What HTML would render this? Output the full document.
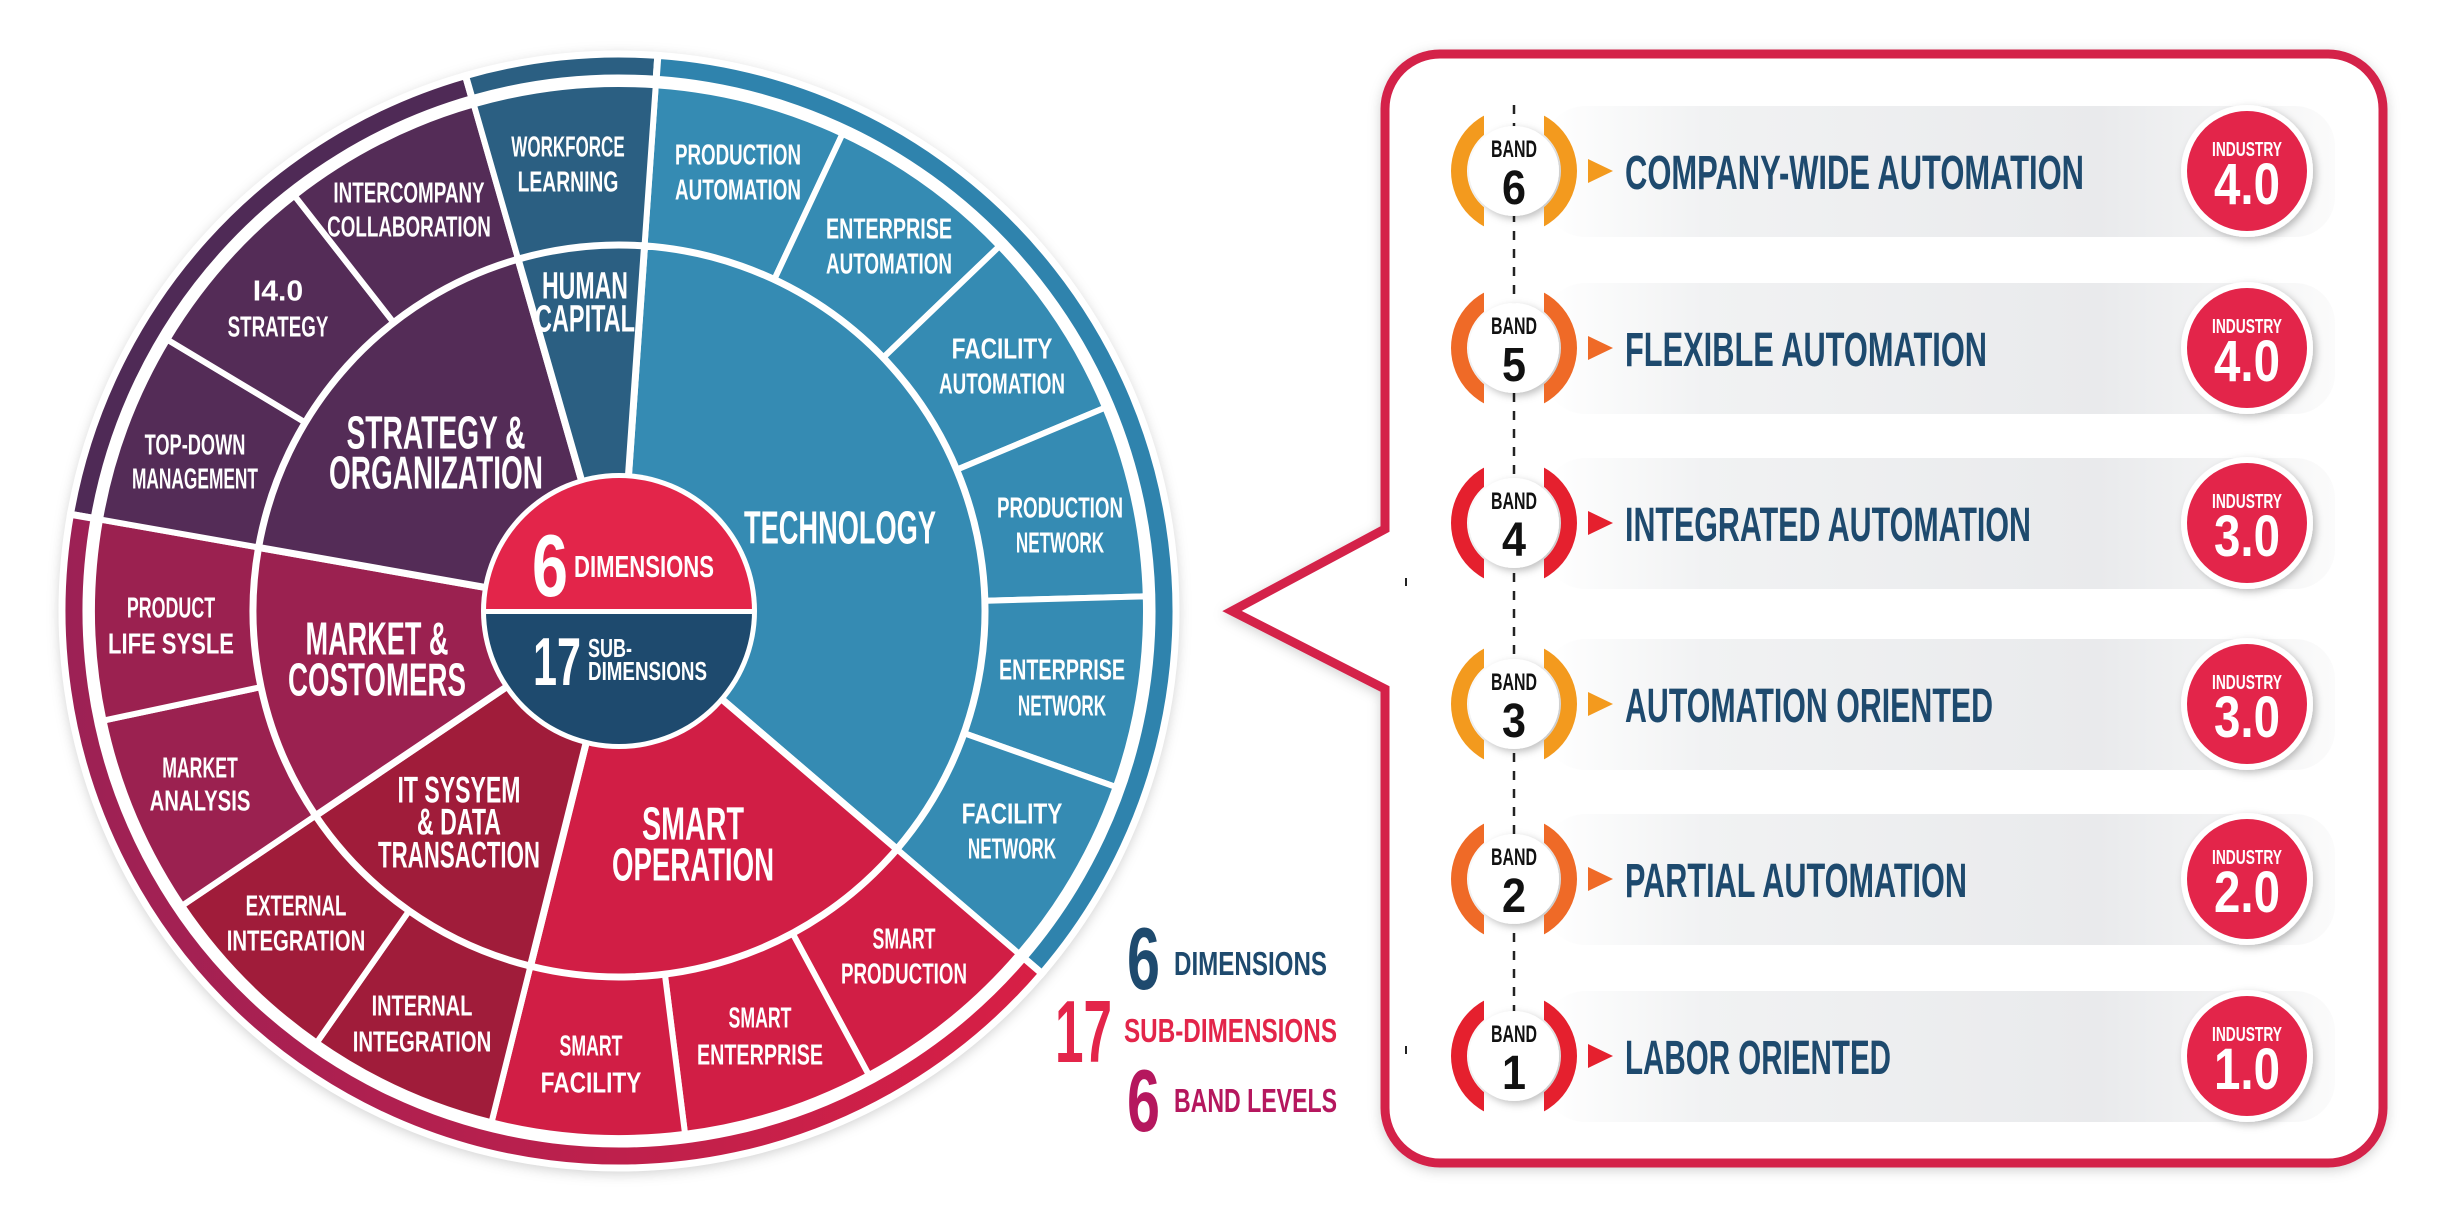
<!DOCTYPE html>
<html><head><meta charset="utf-8"><style>
html,body{margin:0;padding:0;background:#fff;}
svg{display:block;}
text{font-family:"Liberation Sans Narrow","Liberation Sans",sans-serif;font-weight:bold;}
</style></head><body>
<svg id="s" width="2438" height="1214" viewBox="0 0 2438 1214" xmlns="http://www.w3.org/2000/svg">
<defs>
<linearGradient id="ringg" x1="0" y1="0" x2="1" y2="0">
<stop offset="0" stop-color="#9c2155"/><stop offset="1" stop-color="#d81f45"/></linearGradient>
<linearGradient id="barg" x1="0" y1="0" x2="1" y2="0">
<stop offset="0" stop-color="#ffffff"/><stop offset="0.2" stop-color="#f1f2f3"/><stop offset="0.7" stop-color="#e9eaec"/><stop offset="1" stop-color="#fbfbfb"/></linearGradient>
<filter id="sh" x="-20%" y="-20%" width="140%" height="140%"><feDropShadow dx="0" dy="3" stdDeviation="6" flood-color="#000" flood-opacity="0.18"/></filter>
<filter id="sh2" x="-30%" y="-30%" width="160%" height="160%"><feDropShadow dx="3" dy="3" stdDeviation="4" flood-color="#000" flood-opacity="0.25"/></filter>
</defs>
<g id="wheel"></g>
<g id="panel"></g>
</svg>
<script>
const NS="http://www.w3.org/2000/svg";
const cx=619,cy=611;
function el(parent,tag,attrs,txt){const e=document.createElementNS(NS,tag);for(const k in attrs)e.setAttribute(k,attrs[k]);if(txt!==undefined)e.textContent=txt;parent.appendChild(e);return e;}
function P(r,a){const t=a*Math.PI/180;return [cx+r*Math.sin(t),cy-r*Math.cos(t)];}
function sector(g,r1,r2,a1,a2,fill,sw){
 const L=(a2-a1)>180?1:0;const o1=P(r2,a1),o2=P(r2,a2),i2=P(r1,a2),i1=P(r1,a1);
 el(g,'path',{d:`M${o1}A${r2} ${r2} 0 ${L} 1 ${o2}L${i2}A${r1} ${r1} 0 ${L} 0 ${i1}Z`,fill:fill,stroke:'#fff','stroke-width':sw||6,'stroke-linejoin':'miter'});
}
function T(g,x,y,s,size,color,w,anchor){
 const a={x:x,y:y+size*0.36,'font-size':size,fill:color,'text-anchor':anchor||'middle'};
 if(w){a.textLength=w;a.lengthAdjust='spacingAndGlyphs';}
 el(g,'text',a,s);
}
const W=document.getElementById('wheel');
// shadow base
el(W,'circle',{cx:cx,cy:cy,r:560,fill:'#fff',filter:'url(#sh)'});
// outer thin ring
sector(W,533,557,280,344,'#4f2a56',7);
sector(W,533,557,344,364,'#2b5f82',7);
sector(W,533,557,4,130.6,'#2f83ad',7);
sector(W,533,557,130.6,280,'url(#ringg)',7);
// subs
const C={tech:'#358bb3',op:'#d11e45',it:'#a01c3a',mk:'#9b2150',st:'#542c57',hu:'#2b5f82'};
const tb=[4,25.1,46.2,67.3,88.4,109.5,130.6];
for(let i=0;i<6;i++)sector(W,364,527,tb[i],tb[i+1],C.tech);
const ob=[130.6,151.7,172.8,194];for(let i=0;i<3;i++)sector(W,364,527,ob[i],ob[i+1],C.op);
sector(W,364,527,194,215,C.it);sector(W,364,527,215,236,C.it);
sector(W,364,527,236,258,C.mk);sector(W,364,527,258,280,C.mk);
const sb=[280,301,322,344];for(let i=0;i<3;i++)sector(W,364,527,sb[i],sb[i+1],C.st);
sector(W,364,527,344,364,C.hu);
// dims
sector(W,130,366,4,130.6,C.tech,7);sector(W,130,366,130.6,194,C.op,7);sector(W,130,366,194,236,C.it,7);
sector(W,130,366,236,280,C.mk,7);sector(W,130,366,280,344,C.st,7);sector(W,130,366,344,364,C.hu,7);
// center
el(W,'circle',{cx:cx,cy:cy,r:138,fill:'#fff'});
el(W,'path',{d:`M${cx-133},${cy}A133 133 0 0 1 ${cx+133},${cy}Z`,fill:'#e3254a'});
el(W,'path',{d:`M${cx-133},${cy}A133 133 0 0 0 ${cx+133},${cy}Z`,fill:'#1e4a6e'});
el(W,'rect',{x:cx-135,y:cy-2,width:270,height:5,fill:'#fff'});
el(W,'text',{x:532,y:596,'font-size':88,fill:'#fff',textLength:36,lengthAdjust:'spacingAndGlyphs'},'6');
el(W,'text',{x:574,y:577,'font-size':31,fill:'#fff',textLength:140,lengthAdjust:'spacingAndGlyphs'},'DIMENSIONS');
el(W,'text',{x:533,y:685,'font-size':68,fill:'#fff',textLength:48,lengthAdjust:'spacingAndGlyphs'},'17');
el(W,'text',{x:588,y:657,'font-size':26,fill:'#fff',textLength:44,lengthAdjust:'spacingAndGlyphs'},'SUB-');
el(W,'text',{x:588,y:680,'font-size':26,fill:'#fff',textLength:119,lengthAdjust:'spacingAndGlyphs'},'DIMENSIONS');
// small labels
const cw=12.6;
const small=[
[568,146,'WORKFORCE'],[568,181,'LEARNING'],
[738,154,'PRODUCTION'],[738,189,'AUTOMATION'],
[889,228,'ENTERPRISE'],[889,263,'AUTOMATION'],
[1002,348,'FACILITY'],[1002,383,'AUTOMATION'],
[1060,507,'PRODUCTION'],[1060,542,'NETWORK'],
[1062,669,'ENTERPRISE'],[1062,705,'NETWORK'],
[1012,813,'FACILITY'],[1012,848,'NETWORK'],
[904,938,'SMART'],[904,973,'PRODUCTION'],
[760,1017,'SMART'],[760,1054,'ENTERPRISE'],
[591,1045,'SMART'],[591,1082,'FACILITY'],
[422,1005,'INTERNAL'],[422,1041,'INTEGRATION'],
[296,905,'EXTERNAL'],[296,940,'INTEGRATION'],
[200,767,'MARKET'],[200,800,'ANALYSIS'],
[171,607,'PRODUCT'],[171,643,'LIFE SYSLE'],
[195,444,'TOP-DOWN'],[195,478,'MANAGEMENT'],
[278,290,'I4.0'],[278,326,'STRATEGY'],
[409,192,'INTERCOMPANY'],[409,226,'COLLABORATION']];
small.forEach(s=>T(W,s[0],s[1],s[2],29,'#fff',s[2].length*cw));
const big=[
[585,285,'HUMAN',38,86],[585,318,'CAPITAL',38,100],
[436,432,'STRATEGY &',46,179],[436,472,'ORGANIZATION',46,214],
[840,527,'TECHNOLOGY',46,192],
[377,638,'MARKET &',46,143],[377,679,'COSTOMERS',46,178],
[459,789,'IT SYSYEM',37,123],[459,821,'& DATA',37,84],[459,854,'TRANSACTION',37,162],
[693,823,'SMART',46,102],[693,864,'OPERATION',46,162]];
big.forEach(s=>T(W,s[0],s[1],s[2],s[3],'#fff',s[4]));
// legend
el(W,'text',{x:1127,y:989,'font-size':88,fill:'#1e4a6e',textLength:33,lengthAdjust:'spacingAndGlyphs'},'6');
el(W,'text',{x:1174,y:975,'font-size':33,fill:'#1e4a6e',textLength:153,lengthAdjust:'spacingAndGlyphs'},'DIMENSIONS');
el(W,'text',{x:1055,y:1062,'font-size':88,fill:'#e3254a',textLength:57,lengthAdjust:'spacingAndGlyphs'},'17');
el(W,'text',{x:1124,y:1042,'font-size':33,fill:'#e3254a',textLength:213,lengthAdjust:'spacingAndGlyphs'},'SUB-DIMENSIONS');
el(W,'text',{x:1127,y:1131,'font-size':88,fill:'#b5175e',textLength:33,lengthAdjust:'spacingAndGlyphs'},'6');
el(W,'text',{x:1174,y:1112,'font-size':33,fill:'#b5175e',textLength:163,lengthAdjust:'spacingAndGlyphs'},'BAND LEVELS');
// panel
const G=document.getElementById('panel');
el(G,'path',{d:'M1440,54H2328A55 55 0 0 1 2383,109V1108A55 55 0 0 1 2328,1163H1440A55 55 0 0 1 1385,1108V689L1232,611L1385,529V109A55 55 0 0 1 1440,54Z',fill:'#fff',stroke:'#d4204a','stroke-width':9,filter:'url(#sh)'});
el(G,'line',{x1:1514,y1:105,x2:1514,y2:1060,stroke:'#222','stroke-width':2.5,'stroke-dasharray':'9 9'});
el(G,'line',{x1:1406,y1:578,x2:1406,y2:586,stroke:'#222','stroke-width':2});
el(G,'line',{x1:1406,y1:1046,x2:1406,y2:1054,stroke:'#222','stroke-width':2});
const rows=[
[171,'6','COMPANY-WIDE AUTOMATION',459,'4.0','#f39a1e'],
[348,'5','FLEXIBLE AUTOMATION',362,'4.0','#ef6a27'],
[523,'4','INTEGRATED AUTOMATION',406,'3.0','#e5202e'],
[704,'3','AUTOMATION ORIENTED',368,'3.0','#f39a1e'],
[879,'2','PARTIAL AUTOMATION',342,'2.0','#ef6a27'],
[1056,'1','LABOR ORIENTED',266,'1.0','#e5202e']];
let k=0;
rows.forEach(r=>{
 const y=r[0],bx=1514;
 el(G,'rect',{x:1545,y:y-65,width:790,height:131,rx:40,fill:'url(#barg)'});
 el(G,'circle',{cx:bx,cy:y,r:45,fill:'#fff',filter:'url(#sh2)'});
 const id='cl'+(k++);
 const cp=el(G,'clipPath',{id:id});
 el(cp,'rect',{x:bx-70,y:y-70,width:40,height:140});
 el(cp,'rect',{x:bx+30,y:y-70,width:40,height:140});
 el(G,'path',{d:`M${bx-63},${y}A63 63 0 1 0 ${bx+63},${y}A63 63 0 1 0 ${bx-63},${y}ZM${bx-47},${y}A47 47 0 1 1 ${bx+47},${y}A47 47 0 1 1 ${bx-47},${y}Z`,fill:r[5],'fill-rule':'evenodd','clip-path':`url(#${id})`});
 el(G,'text',{x:bx,y:y-14,'font-size':24,fill:'#111','text-anchor':'middle',textLength:46,lengthAdjust:'spacingAndGlyphs'},'BAND');
 el(G,'text',{x:bx,y:y+33,'font-size':48,fill:'#111','text-anchor':'middle',textLength:24,lengthAdjust:'spacingAndGlyphs'},r[1]);
 el(G,'path',{d:`M1588,${y-12}L1613,${y}L1588,${y+12}Z`,fill:r[5]});
 el(G,'text',{x:1625,y:y+18,'font-size':48,fill:'#1e4a6e',textLength:r[3],lengthAdjust:'spacingAndGlyphs'},r[2]);
 el(G,'circle',{cx:2247,cy:y,r:66,fill:'#fff',filter:'url(#sh2)'});
 el(G,'circle',{cx:2247,cy:y,r:60,fill:'#e3254a'});
 el(G,'text',{x:2247,y:y-15,'font-size':20,fill:'#fff','text-anchor':'middle',textLength:70,lengthAdjust:'spacingAndGlyphs'},'INDUSTRY');
 el(G,'text',{x:2247,y:y+33,'font-size':58,fill:'#fff','text-anchor':'middle',textLength:66,lengthAdjust:'spacingAndGlyphs'},r[4]);
});
</script>
</body></html>
